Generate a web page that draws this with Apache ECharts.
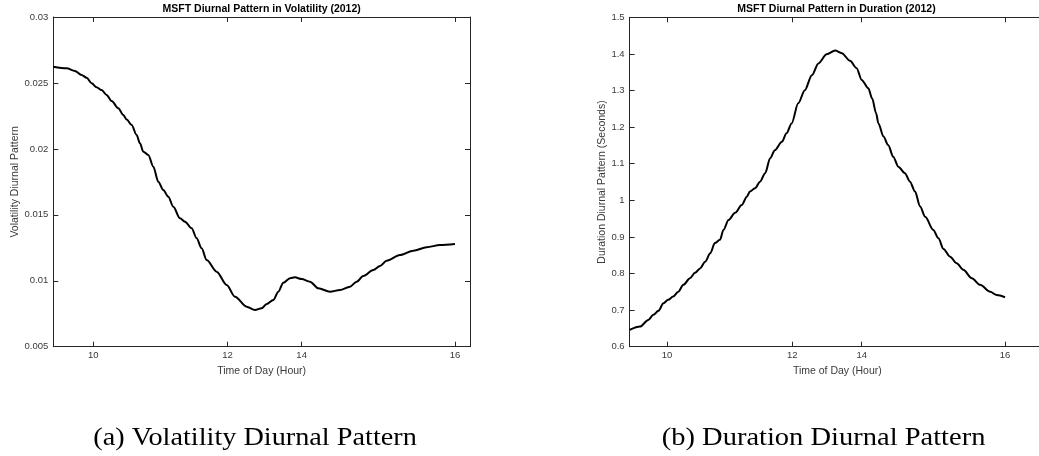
<!DOCTYPE html>
<html><head><meta charset="utf-8">
<script src="https://cdn.jsdelivr.net/npm/echarts@6/dist/echarts.min.js"></script>
<style>html,body{margin:0;padding:0;background:#fff}#c{width:1039px;height:456px}</style>
</head><body><div id="c"></div>
<script>
// x axis is an intraday index scale; hour labels sit at these index positions
const xTickPos = [96, 418, 596, 964];
const xTickLabels = ['10', '12', '14', '16'];

const volTitle = 'MSFT Diurnal Pattern in Volatility (2012)';
const durTitle = 'MSFT Diurnal Pattern in Duration (2012)';
const xName = 'Time of Day (Hour)';
const volYName = 'Volatility Diurnal Pattern';
const durYName = 'Duration Diurnal Pattern (Seconds)';
const capA = '(a) Volatility Diurnal Pattern';
const capB = '(b) Duration Diurnal Pattern';

const volX = [0, 32, 52, 68, 80, 92, 104, 116, 128, 140, 156, 168, 176, 188, 200, 208, 216, 228, 240, 252, 264, 276, 288, 304, 316, 332, 344, 356, 368, 392, 416, 436, 464, 484, 500, 512, 528, 540, 552, 568, 580, 596, 616, 636, 664, 688, 712, 728, 744, 768, 784, 800, 832, 864, 896, 928, 964];
const volY = [0.02623, 0.02611, 0.02591, 0.02560, 0.02540, 0.02497, 0.02467, 0.02446, 0.02409, 0.02363, 0.02308, 0.02257, 0.02223, 0.02181, 0.02105, 0.02042, 0.01979, 0.01954, 0.01865, 0.01751, 0.01688, 0.01637, 0.01561, 0.01474, 0.01448, 0.01398, 0.01322, 0.01246, 0.01157, 0.01069, 0.00968, 0.00879, 0.00803, 0.00778, 0.00791, 0.00824, 0.00854, 0.00917, 0.00985, 0.01019, 0.01026, 0.01013, 0.00993, 0.00943, 0.00917, 0.00930, 0.00955, 0.00993, 0.01036, 0.01082, 0.01112, 0.01152, 0.01195, 0.01228, 0.01254, 0.01271, 0.01279];

const durX = [0, 27, 48, 61, 74, 87, 99, 112, 125, 138, 155, 168, 181, 194, 207, 219, 232, 241, 254, 271, 288, 301, 309, 322, 335, 348, 361, 373, 391, 403, 416, 433, 450, 468, 485, 506, 528, 545, 566, 583, 596, 613, 623, 633, 639, 652, 664, 677, 690, 707, 720, 733, 746, 759, 780, 793, 806, 823, 840, 857, 879, 900, 926, 943, 964];
const durY = [0.646, 0.655, 0.673, 0.687, 0.698, 0.719, 0.728, 0.737, 0.750, 0.769, 0.787, 0.802, 0.814, 0.832, 0.855, 0.883, 0.892, 0.919, 0.946, 0.966, 0.987, 1.010, 1.024, 1.033, 1.051, 1.074, 1.115, 1.137, 1.160, 1.183, 1.210, 1.265, 1.301, 1.342, 1.374, 1.399, 1.409, 1.402, 1.381, 1.361, 1.329, 1.306, 1.278, 1.238, 1.210, 1.174, 1.151, 1.119, 1.092, 1.074, 1.051, 1.024, 0.983, 0.955, 0.919, 0.896, 0.867, 0.846, 0.828, 0.810, 0.787, 0.769, 0.750, 0.741, 0.735];

const axisColor = '#262626';
const labelColor = '#3a3a3a';
const sans = '"Liberation Sans", Arial, Helvetica, sans-serif';

function zip(a, b) { return a.map((v, i) => [v, b[i]]); }

function xAxes(gridIndex, max) {
  const base = {
    type: 'value', gridIndex, min: 0, max,
    splitLine: { show: false },
    axisLine: { show: true, onZero: false, lineStyle: { color: axisColor, width: 1 } },
    axisTick: { show: true, inside: true, length: 5, customValues: xTickPos, lineStyle: { color: axisColor } }
  };
  return [
    Object.assign({}, base, {
      position: 'bottom',
      name: xName, nameLocation: 'middle', nameGap: 12,
      nameTextStyle: { fontFamily: sans, fontSize: 10.5, color: labelColor },
      axisLabel: {
        show: true, margin: 4, customValues: xTickPos,
        fontFamily: sans, fontSize: 9.5, color: labelColor,
        formatter: v => { const i = xTickPos.indexOf(v); return i >= 0 ? xTickLabels[i] : ''; }
      }
    }),
    Object.assign({}, base, { position: 'top', axisLabel: { show: false } })
  ];
}

function yAxes(gridIndex, min, max, interval, name, gap) {
  const base = {
    type: 'value', gridIndex, min, max, interval,
    splitLine: { show: false },
    axisLine: { show: true, onZero: false, lineStyle: { color: axisColor, width: 1 } },
    axisTick: { show: true, inside: true, length: 5, lineStyle: { color: axisColor } }
  };
  return [
    Object.assign({}, base, {
      position: 'left',
      name, nameLocation: 'middle', nameGap: gap,
      nameTextStyle: { fontFamily: sans, fontSize: 10.5, color: labelColor },
      axisLabel: { show: true, margin: 5, fontFamily: sans, fontSize: 9.5, color: labelColor }
    }),
    Object.assign({}, base, { position: 'right', axisLabel: { show: false } })
  ];
}

const chart = echarts.init(document.getElementById('c'), null, { renderer: 'canvas' });

const option = {
  animation: false,
  backgroundColor: '#fff',
  grid: [
    { left: 53.3, top: 17, width: 416.7, height: 329.7, containLabel: false, outerBoundsMode: 'none' },
    { left: 629.6, top: 17.3, width: 415.5, height: 329.4, containLabel: false, outerBoundsMode: 'none' }
  ],
  xAxis: [].concat(xAxes(0, 1000), xAxes(1, 1067)),
  yAxis: [].concat(
    yAxes(0, 0.005, 0.03, 0.005, volYName, 31),
    yAxes(1, 0.6, 1.5, 0.1, durYName, 20)
  ),
  series: [
    {
      type: 'line', xAxisIndex: 0, yAxisIndex: 0, data: zip(volX, volY),
      showSymbol: false, smooth: 0.3, smoothMonotone: 'x',
      lineStyle: { color: '#000', width: 2 }
    },
    {
      type: 'line', xAxisIndex: 2, yAxisIndex: 2, data: zip(durX, durY),
      showSymbol: false, smooth: 0.3, smoothMonotone: 'x',
      lineStyle: { color: '#000', width: 2 }
    }
  ],
  graphic: [
    { type: 'text', x: 261.7, y: 9, style: { text: volTitle, align: 'center', verticalAlign: 'middle', font: 'bold 10.5px ' + sans, fill: '#000' } },
    { type: 'text', x: 836.5, y: 9.5, style: { text: durTitle, align: 'center', verticalAlign: 'middle', font: 'bold 10.5px ' + sans, fill: '#000' } },
    { type: 'text', x: 93.3, y: 438, scaleX: 1.13, style: { text: capA, align: 'left', verticalAlign: 'middle', font: '25px "Liberation Serif", "Times New Roman", serif', fill: '#000' } },
    { type: 'text', x: 661.7, y: 438, scaleX: 1.14, style: { text: capB, align: 'left', verticalAlign: 'middle', font: '25px "Liberation Serif", "Times New Roman", serif', fill: '#000' } }
  ]
};
chart.setOption(option);
</script>
</body></html>
